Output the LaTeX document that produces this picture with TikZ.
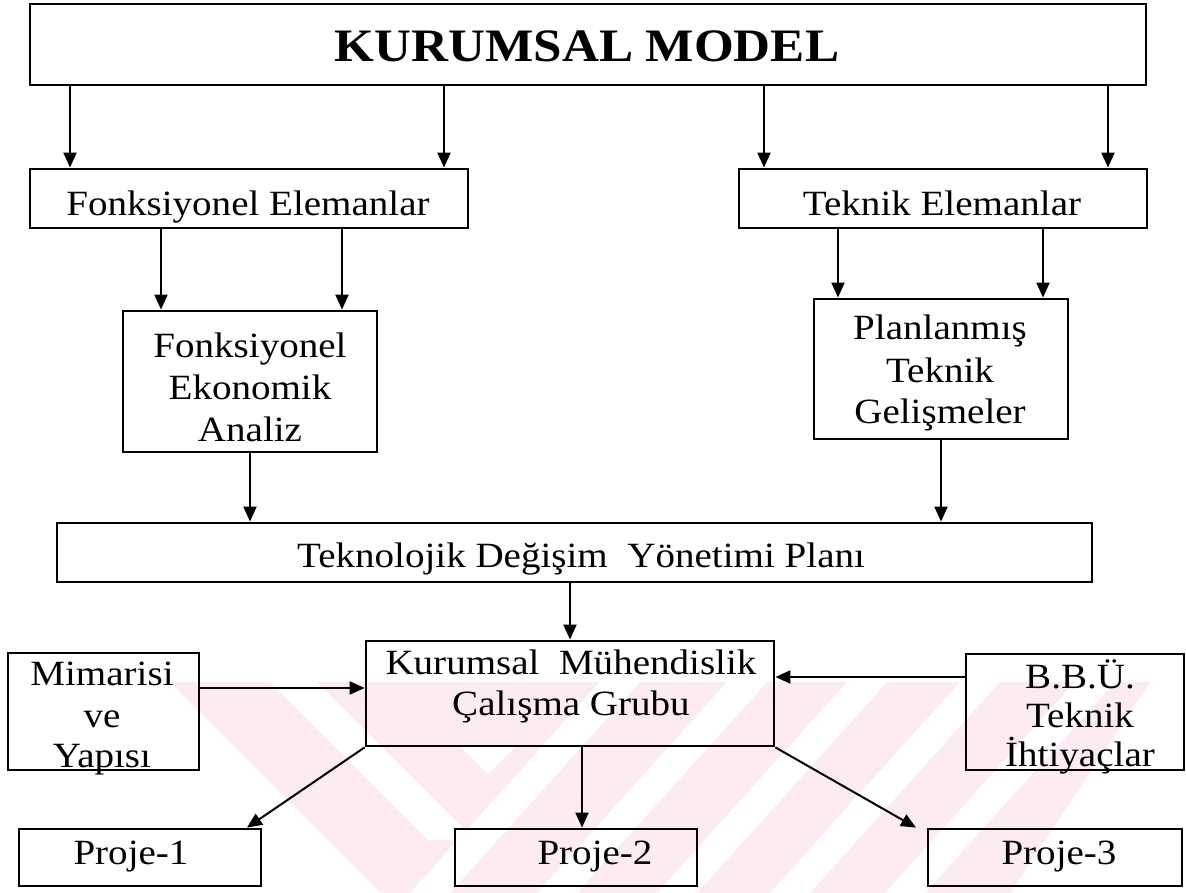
\documentclass[tikz,border=0pt]{standalone}
\usepackage{fontspec}
\setmainfont{Liberation Serif}[FakeStretch=1.1]
\usetikzlibrary{arrows.meta}
\definecolor{wm}{RGB}{253,236,239}
\tikzset{
  box/.style={draw=black, line width=2.8pt, inner sep=0pt},
  lbl/.style={anchor=base, inner sep=0pt, font=\fontsize{35.5}{41}\selectfont},
  ttl/.style={anchor=base, inner sep=0pt, font=\fontsize{46.5}{50}\selectfont\bfseries},
  arr/.style={draw=black, line width=2pt, -{Triangle[length=15pt,width=13pt]}},
  gap/.style={fill=white, draw=none},
}
\begin{document}
\begin{tikzpicture}[x=1pt,y=-1pt]
\fill[white] (0,0) rectangle (1186,893);
\useasboundingbox (0,0) rectangle (1186,893);

% faint striped emblem behind the lower part
\begin{scope}
  \clip (170,682) -- (1150,682) -- (1010,893) -- (381,893) -- cycle;
  \fill[wm] (0,682) rectangle (1186,893);
  \fill[gap] (270,682) -- (317,682) -- (475,840) -- (428,840) -- cycle;
  \fill[gap] (460,746) -- (516,746) -- (488,774) -- cycle;
  \foreach \sx in {600,727,847,960,1075}
    \fill[gap] (\sx,682) -- (\sx+40,682) -- (\sx-150,893) -- (\sx-190,893) -- cycle;
\end{scope}

% boxes
\node[box, minimum width=1116pt, minimum height=81pt]  (km)  at (588,44.5)  {};
\node[box, minimum width=438pt,  minimum height=59pt]  (fe)  at (249,198.5) {};
\node[box, minimum width=408pt,  minimum height=59pt]  (te)  at (943,198.5) {};
\node[box, minimum width=254pt,  minimum height=141pt] (fa)  at (250,381.5) {};
\node[box, minimum width=254pt,  minimum height=140pt] (pt)  at (941,369)   {};
\node[box, minimum width=1035pt, minimum height=59pt]  (tdy) at (574.5,552.5) {};
\node[box, minimum width=408pt,  minimum height=105pt] (kmc) at (570,693.5) {};
\node[box, minimum width=191pt,  minimum height=117pt] (mim) at (103.5,711.5) {};
\node[box, minimum width=218pt,  minimum height=116pt] (bbu) at (1075,712)  {};
\node[box, minimum width=242pt,  minimum height=57pt]  (p1)  at (140,857.5) {};
\node[box, minimum width=242pt,  minimum height=57pt]  (p2)  at (576,857.5) {};
\node[box, minimum width=254pt,  minimum height=57pt]  (p3)  at (1055,857.5) {};

% texts
\node[ttl] (t-km) at (587,62) {KURUMSAL MODEL};
\node[lbl] (t-fe) at (248,216) {Fonksiyonel Elemanlar};
\node[lbl] (t-te) at (942,216) {Teknik Elemanlar};
\node[lbl] (t-fa1) at (250,357) {Fonksiyonel};
\node[lbl] (t-fa2) at (250,399) {Ekonomik};
\node[lbl] (t-fa3) at (250,441) {Analiz};
\node[lbl] (t-pt1) at (940,339) {Planlanmış};
\node[lbl] (t-pt2) at (940,382) {Teknik};
\node[lbl] (t-pt3) at (940,423) {Gelişmeler};
\node[lbl] (t-tdy) at (581,567) {Teknolojik Değişim~~Yönetimi Planı};
\node[lbl] (t-kmc1) at (571,674) {Kurumsal~~Mühendislik};
\node[lbl] (t-kmc2) at (571,715) {Çalışma Grubu};
\node[lbl] (t-mim1) at (102,685) {Mimarisi};
\node[lbl] (t-mim2) at (102,727) {ve};
\node[lbl] (t-mim3) at (102,767) {Yapısı};
\node[lbl] (t-bbu1) at (1080,688) {B.B.Ü.};
\node[lbl] (t-bbu2) at (1080,727) {Teknik};
\node[lbl] (t-bbu3) at (1080,766) {İhtiyaçlar};
\node[lbl] (t-p1) at (131,864) {Proje-1};
\node[lbl] (t-p2) at (595,864) {Proje-2};
\node[lbl] (t-p3) at (1059,864) {Proje-3};

% connector columns and rows
\coordinate (a1) at (70,0);
\coordinate (a2) at (444,0);
\coordinate (a3) at (764,0);
\coordinate (a4) at (1108,0);
\coordinate (b1) at (161,0);
\coordinate (b2) at (342,0);
\coordinate (b3) at (838,0);
\coordinate (b4) at (1043,0);
\coordinate (c1) at (250,0);
\coordinate (c2) at (941,0);
\coordinate (d1) at (570,0);
\coordinate (e1) at (247,0);
\coordinate (e2) at (582,0);
\coordinate (e3) at (916,0);
\coordinate (h1) at (0,688);
\coordinate (h2) at (0,677);

% connectors
\draw[arr] (km.south -| a1) -- (fe.north -| a1);
\draw[arr] (km.south -| a2) -- (fe.north -| a2);
\draw[arr] (km.south -| a3) -- (te.north -| a3);
\draw[arr] (km.south -| a4) -- (te.north -| a4);
\draw[arr] (fe.south -| b1) -- (fa.north -| b1);
\draw[arr] (fe.south -| b2) -- (fa.north -| b2);
\draw[arr] (te.south -| b3) -- (pt.north -| b3);
\draw[arr] (te.south -| b4) -- (pt.north -| b4);
\draw[arr] (fa.south -| c1) -- (tdy.north -| c1);
\draw[arr] (pt.south -| c2) -- (tdy.north -| c2);
\draw[arr] (tdy.south -| d1) -- (kmc.north -| d1);
\draw[arr] (mim.east |- h1) -- (kmc.west |- h1);
\draw[arr] (bbu.west |- h2) -- (kmc.east |- h2);
\draw[arr] (kmc.south west) -- (p1.north -| e1);
\draw[arr] (kmc.south -| e2) -- (p2.north -| e2);
\draw[arr] (kmc.south east) -- (p3.north -| e3);
\end{tikzpicture}
\end{document}
